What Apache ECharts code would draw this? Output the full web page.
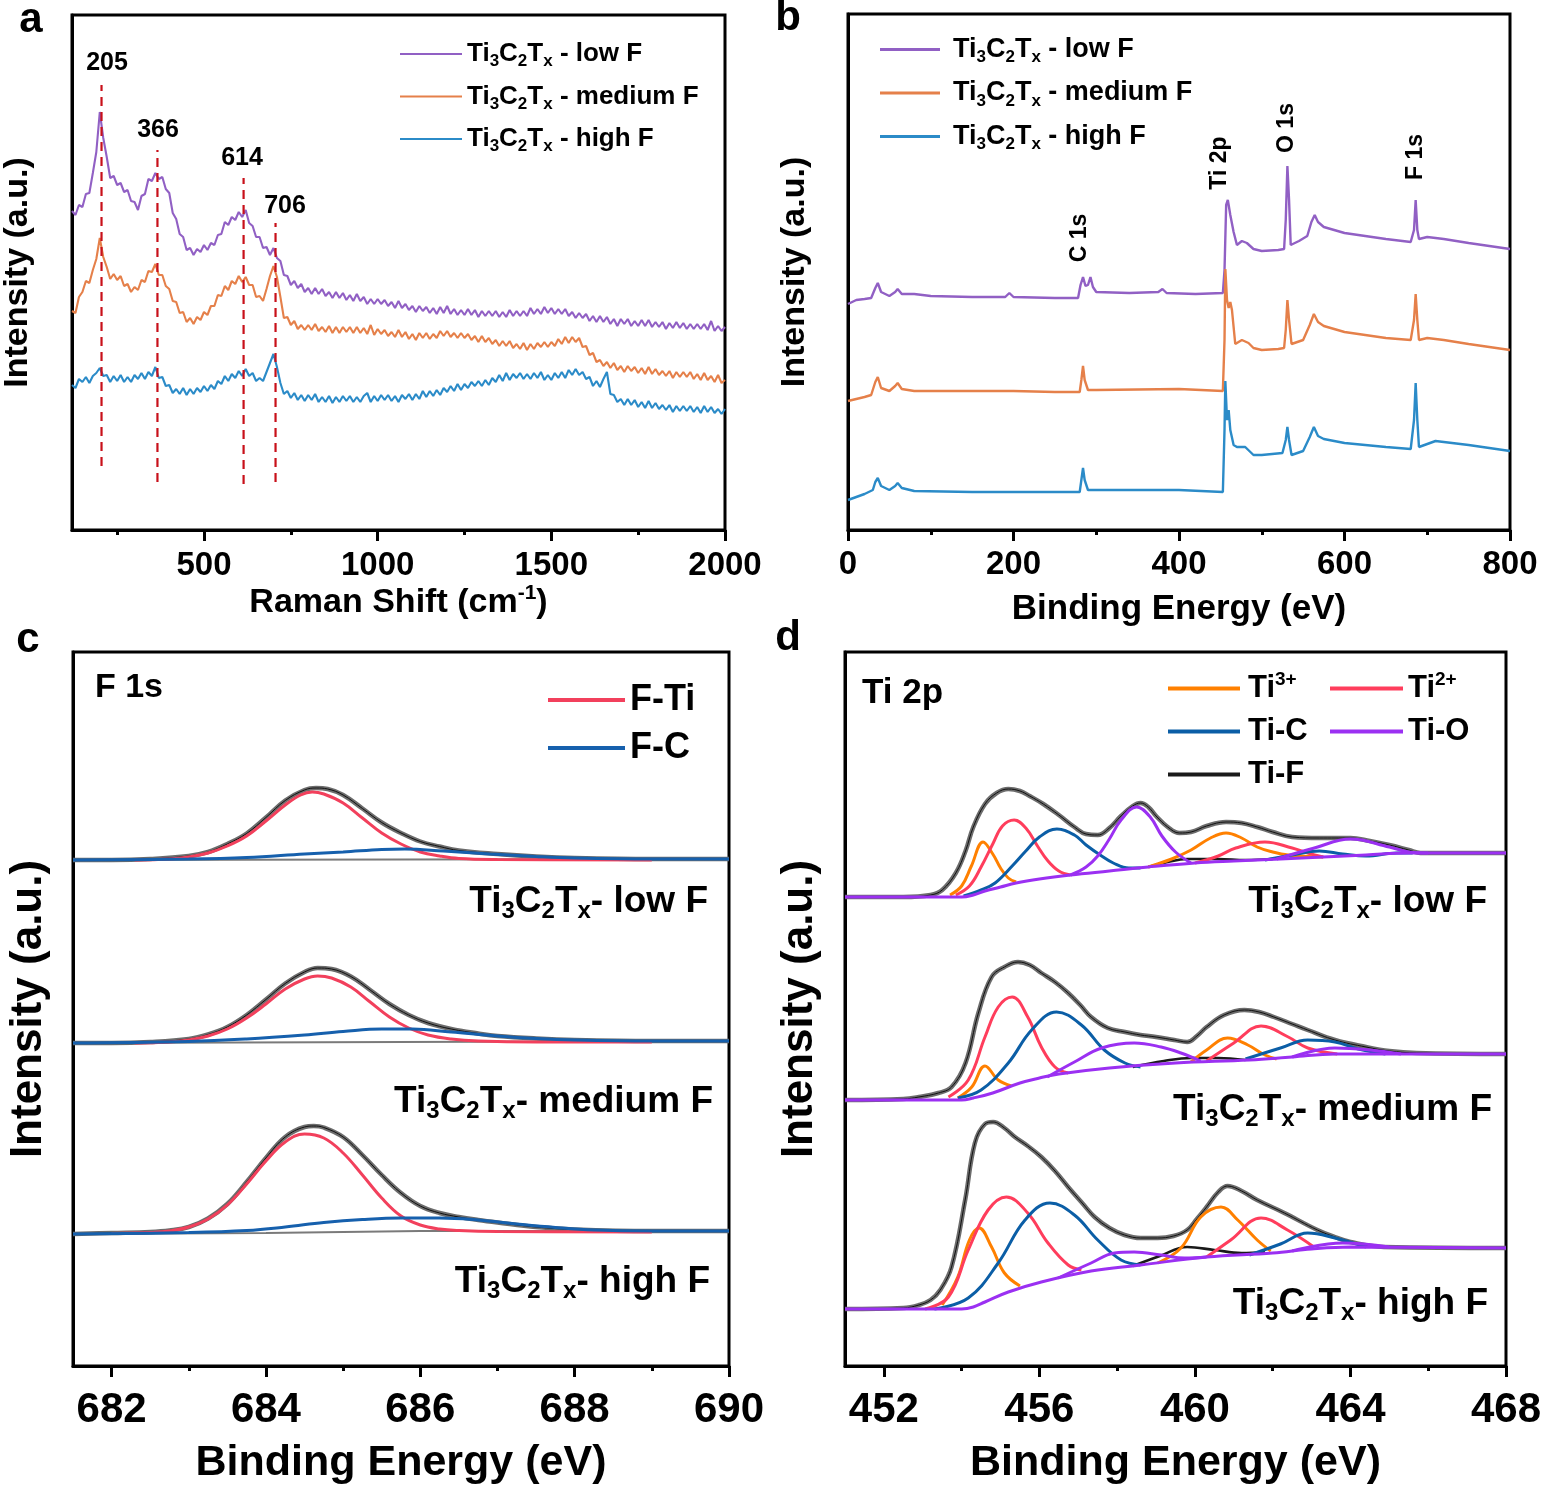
<!DOCTYPE html>
<html><head><meta charset="utf-8">
<script src="https://cdn.jsdelivr.net/npm/echarts@6/dist/echarts.min.js"></script>
<style>html,body{margin:0;padding:0;background:#fff}#c{width:1545px;height:1492px}</style>
</head><body><div id="c"></div>
<script>
// ---------------- DATA ----------------
// Panel a: Raman spectra (sampling grid start/step, intensity in a.u.)
const ramanStart = 120, ramanStep = 10;
const ramanLowF = [
319,315,325,323,336,337,357,378,418,392,
373,352,354,345,347,338,340,329,328,320,
334,336,351,349,357,351,353,341,337,317,
311,296,293,280,282,275,281,278,285,280,
287,285,295,296,308,305,313,310,318,313,
320,307,304,293,293,282,283,275,282,272,
269,255,254,245,249,242,246,238,242,236,
242,236,241,234,238,232,238,232,237,230,
235,229,236,229,233,226,231,226,231,226,
230,224,228,222,229,222,226,220,224,218,
224,219,223,217,222,216,223,217,224,216,
221,215,220,215,221,215,220,213,219,214,
219,214,219,213,218,213,220,214,219,214,
219,214,222,216,221,216,223,217,222,216,
221,216,221,214,218,212,217,212,216,209,
214,208,214,208,213,206,211,204,211,206,
211,204,209,204,210,204,210,203,208,203,
208,201,207,202,208,202,207,201,206,201,
206,201,206,200,209,199,204,199,203];
const ramanMediumF = [
219,217,233,238,249,247,260,271,292,273,
263,251,256,250,254,244,246,238,243,240,
250,248,259,258,266,255,255,244,241,229,
228,217,218,208,212,206,213,210,218,215,
224,224,235,234,244,240,249,246,254,248,
253,245,245,233,234,229,241,254,264,253,
233,212,213,205,209,201,205,200,205,200,
206,199,203,198,204,197,203,197,203,198,
203,197,203,197,202,196,205,195,201,196,
200,194,198,193,200,193,198,191,196,190,
197,192,197,191,196,192,199,194,199,193,
197,192,197,192,196,190,194,188,194,188,
192,186,190,184,189,184,189,182,186,181,
187,180,186,181,187,183,188,183,188,184,
191,186,193,187,193,188,192,183,184,175,
177,168,170,164,168,162,167,160,164,158,
164,159,163,157,162,156,163,156,161,155,
159,154,159,152,158,153,158,153,158,151,
156,150,157,150,154,148,155,147,150];
const ramanHighF = [
145,142,151,148,153,147,154,157,162,154,
155,148,154,149,155,148,153,148,155,151,
157,151,158,154,163,152,153,144,145,137,
141,136,142,135,141,136,142,138,144,139,
145,141,149,146,154,149,156,152,159,154,
161,154,157,149,152,149,158,167,176,163,
147,136,139,132,137,130,135,129,135,130,
136,128,133,128,134,127,133,128,134,129,
134,128,133,128,134,137,128,134,129,135,
130,135,129,134,128,135,131,136,130,136,
131,139,133,139,134,140,135,142,138,144,
139,146,140,146,142,148,144,149,144,150,
145,152,148,155,149,157,150,156,152,157,
151,156,151,157,152,158,150,155,150,157,
152,158,152,160,155,161,155,158,151,153,
144,149,143,151,158,136,135,128,131,125,
131,125,130,123,128,122,129,122,127,121,
125,120,125,118,124,119,124,119,124,118,
123,117,124,118,123,117,121,116,121];
const ramanPeaks = [205, 366, 614, 706];
const ramanPeakTop = [445, 380, 352, 307];
const ramanPeakBottom = [64, 48, 46, 48];
const ramanPeakLabels = ['205', '366', '614', '706'];
const ramanMajorTicks = [500, 1000, 1500, 2000];
const ramanMinorTicks = [250, 750, 1250, 1750];

// Panel b: XPS survey [binding energy, intensity]
const surveyLowF = [[0,226],[10,230],[20,231],[28,232],[33,242],[36,247],[40,238],[50,234],[57,238],[60,241],[65,236],[80,236],[100,234],[150,233],[190,233],[195,237],[200,233],[250,232],[278,232],[281,245],[284,253],[287,244],[290,245],[293,253],[296,243],[300,238],[340,237],[375,238],[380,241],[385,237],[420,236],[453,237],[455,260],[457,325],[459,330],[462,315],[466,298],[470,285],[476,289],[482,287],[490,281],[500,279],[520,280],[527,281],[529,310],[531,364],[533,330],[535,285],[545,289],[555,294],[560,308],[564,315],[568,308],[575,303],[600,297],[625,294],[650,291],[680,288],[684,300],[686,330],[688,300],[690,291],[700,293],[720,291],[750,287],[775,284],[800,281]];
const surveyMediumF = [[0,129],[10,131],[20,133],[28,135],[33,148],[36,153],[40,142],[50,139],[57,144],[60,147],[65,141],[80,139],[150,139],[200,139],[250,138],[280,138],[282,150],[284,164],[286,150],[290,140],[300,140],[400,141],[453,139],[455,190],[456,261],[458,230],[460,222],[462,228],[464,220],[468,186],[476,190],[484,187],[490,182],[500,180],[520,181],[527,182],[529,200],[531,230],[533,210],[536,186],[550,190],[558,205],[563,216],[568,208],[575,204],[600,198],[650,192],[680,190],[684,210],[686,236],[688,210],[690,190],[700,192],[720,190],[750,186],[800,180]];
const surveyHighF = [[0,30],[10,33],[20,36],[30,40],[33,48],[36,52],[40,44],[50,40],[57,44],[60,47],[65,42],[80,39],[150,38],[200,38],[280,38],[282,50],[284,62],[286,50],[290,40],[300,40],[400,40],[453,38],[455,100],[456,149],[458,110],[460,120],[462,100],[466,85],[470,83],[480,83],[490,75],[500,75],[525,77],[529,90],[531,103],[533,90],[536,75],[550,79],[558,93],[563,103],[568,94],[575,91],[600,87],[650,83],[680,81],[684,110],[686,147],[688,110],[690,83],[700,86],[710,89],[730,87],[750,85],[800,79]];

// Panel c: F 1s
const f1sBaseLow = [[681.5,506],[690,507]];
const f1sEnvLow = [[681.5,506],[682,506],[682.5,507],[683.0,510],[683.25,514],[683.5,522],[683.75,532.5],[684.0,548.5],[684.25,565.5],[684.5,576],[684.65,578],[684.8,577],[685.0,571],[685.25,557.5],[685.5,543.5],[685.75,533],[686.0,524.5],[686.25,519.5],[686.5,515.5],[687.0,512],[687.5,509.5],[688,508],[689,507],[690,507]];
const f1sTiLow = [[682.3,506],[682.75,507],[683.0,509],[683.25,513],[683.5,520],[683.75,530],[684.0,545],[684.25,561],[684.45,571],[684.6,574],[684.75,572],[685.0,563],[685.25,548],[685.5,533],[685.75,522],[686.0,514],[686.25,510],[686.5,507.5],[687,506.5],[689,506]];
const f1sCLow = [[681.5,506],[683,507],[683.75,508.5],[684.5,512],[685,514],[685.5,516.5],[685.8,517],[686.3,515],[686.9,512],[687.5,509.5],[688,508],[689,507],[690,507]];
const f1sBaseMed = [[681.5,323],[690,325]];
const f1sEnvMed = [[681.5,323],[682,323],[682.5,324],[683.0,327],[683.25,331.5],[683.5,339],[683.75,351],[684.0,366.5],[684.25,382.5],[684.5,394],[684.67,398],[684.85,397],[685.1,389.5],[685.35,376],[685.6,362],[685.85,351],[686.1,343],[686.4,337],[686.75,332.5],[687.0,330],[687.5,327.5],[688,326],[689,325],[690,325]];
const f1sTiMed = [[682.3,323],[682.75,324],[683.0,326],[683.25,330],[683.5,337],[683.75,348],[684.0,362],[684.25,377],[684.5,387],[684.67,390],[684.85,388],[685.1,379],[685.35,364],[685.6,349],[685.85,338],[686.1,331],[686.4,327],[686.75,325],[687.5,324],[689,324]];
const f1sCMed = [[681.5,323],[683,324.5],[683.75,327],[684.5,331],[685.0,334.5],[685.5,337],[685.9,337],[686.4,334],[687,330],[687.5,327.5],[688,326],[689,325],[690,325]];
const f1sBaseHigh = [[681.5,132],[684,133],[686,135],[690,135]];
const f1sEnvHigh = [[681.5,132],[682.0,133],[682.5,134],[682.75,135.5],[683.0,139],[683.25,147.5],[683.5,162],[683.75,184],[684.0,208],[684.25,229],[684.5,239],[684.62,240],[684.75,238.5],[685.0,229],[685.25,211],[685.5,191],[685.75,173],[686.0,160],[686.25,153],[686.5,149],[686.75,146],[687.0,143.5],[687.5,139],[688,136.5],[689,135],[690,135]];
const f1sTiHigh = [[682.0,132.5],[682.5,133.5],[682.75,135],[683.0,139],[683.25,147],[683.5,161],[683.75,182],[684.0,205],[684.25,224],[684.5,232],[684.75,228],[685.0,213],[685.25,191],[685.5,168],[685.75,150],[686.0,141],[686.25,137],[686.5,135.5],[687,134.5],[689,134]];
const f1sCHigh = [[681.5,132],[683,133.5],[683.75,135.5],[684.25,139],[684.75,143.5],[685.25,146.5],[685.75,148],[686.25,148],[686.75,146],[687.25,142],[687.75,138.5],[688.25,136],[689,135],[690,135]];

// Panel d: Ti 2p (segments of each fitted component)
const ti2pBgLow = [[451,469],[454.0,469],[454.3,471],[454.6,475],[455.0,479],[455.4,483],[456.0,487],[456.8,491],[457.8,495],[458.8,499],[460.0,503],[461.0,505],[462.2,507],[463.3,509],[464.4,511],[465.5,513],[468,513]];
const ti2pEnvLow = [[451,469],[452.5,469],[453.2,471],[453.5,476],[453.85,493],[454.1,515],[454.3,539],[454.6,562],[454.9,573],[455.2,577],[455.5,575],[455.75,570],[456.1,562],[456.5,551],[456.9,539],[457.2,532],[457.5,531],[457.8,538],[458.1,550],[458.4,560],[458.6,563],[458.8,559],[459.0,550],[459.3,539],[459.6,533],[459.9,534],[460.3,540],[460.8,544],[461.2,543],[461.6,539],[462.0,534],[462.5,529],[463.2,528],[464.0,528],[464.5,525],[465.0,521],[465.5,516],[465.8,513],[468,513]];
const ti3pLow = [[[453.7,471],[454.0,480],[454.25,500],[454.55,524],[454.8,512],[455.0,498],[455.2,488],[455.4,484]],[[458.8,499],[459.4,507],[459.9,516],[460.4,528],[460.8,533],[461.2,528],[461.6,519],[462.0,514],[462.4,511],[463.3,509]]];
const ti2pLow = [[[453.85,471],[454.2,480],[454.5,499],[454.8,522],[455.05,540],[455.35,546],[455.65,538],[455.95,520],[456.2,506],[456.5,495],[456.8,491]],[[460.0,503],[460.6,510],[461.05,518],[461.8,524],[462.5,518],[462.9,513],[463.3,509]]];
const tiCLow = [[[454.05,470],[454.5,476],[454.86,483],[455.3,500],[455.65,515],[456.0,529],[456.45,537],[456.9,531],[457.2,521],[457.6,510],[457.9,503],[458.3,498],[458.6,498]],[[461.8,506],[462.5,511],[463.2,515],[463.8,512],[464.4,510],[465.2,513],[465.6,513]]];
const tiOLow = [[[456.8,491],[457.2,499],[457.5,510],[457.8,527],[458.1,546],[458.5,559],[458.85,549],[459.15,530],[459.5,514],[459.9,503]],[[462.1,507],[463.07,518],[464.0,527],[465.0,519],[465.5,514],[466.0,513]]];
const tiFLow = [[[458.8,499],[459.3,504],[459.8,507],[460.6,507],[461.3,506],[462,507]]];
const ti2pBgMed = [[451,266],[454.0,266],[454.3,268],[454.8,273],[455.5,283],[456.0,288],[456.5,292],[457.8,298],[459.5,303],[461.4,306],[462.5,309],[463.6,312],[468,312]];
const ti2pEnvMed = [[451,266],[452.5,267],[452.9,269],[453.4,273],[453.74,279],[454.1,303],[454.43,353],[454.77,389],[455.1,399],[455.45,404],[455.75,401],[456.05,393],[456.4,384],[456.74,373],[457.05,361],[457.33,349],[457.76,338],[458.2,334],[458.6,331],[459.0,329],[459.47,326],[459.8,324],[460.05,330],[460.3,339],[460.75,351],[461.27,356],[461.65,354],[462.03,349],[462.5,342],[462.9,336],[463.6,326],[464.4,319],[465.0,315],[465.7,313],[468,312]];
const ti3pMed = [[[453.9,268],[454.26,279],[454.6,300],[454.94,286],[455.28,280]],[[459.9,304],[460.3,316],[460.84,328],[461.36,321],[461.8,311],[462.1,307]]];
const ti2pMed = [[[453.66,269],[454.17,286],[454.6,329],[454.94,359],[455.3,369],[455.7,349],[456.05,319],[456.4,299],[456.74,293]],[[460.3,305],[461.0,323],[461.7,340],[462.4,329],[462.9,318],[463.66,312]]];
const tiCMed = [[[453.9,268],[454.5,276],[455.2,303],[455.8,336],[456.44,354],[457.08,341],[457.67,316],[458.2,303],[458.6,299]],[[461.3,307],[462.2,318],[462.9,326],[463.6,324],[464.2,317],[464.9,312]]];
const tiOMed = [[[456.2,289],[456.9,304],[457.6,318],[458.44,323],[459.13,319],[459.64,313],[460.15,305]],[[462.5,309],[463.6,318],[464.5,316],[465.3,312]]];
const tiFMed = [[[458.4,299],[459.2,305],[459.9,308],[460.6,308],[461.3,306]]];
const ti2pBgHigh = [[451,57],[454.0,57],[454.3,59],[454.6,64],[455.2,74],[456.05,84],[457.33,95],[458.6,101],[460.3,109],[462.0,113],[463.0,117],[464.0,119],[468,118]];
const ti2pEnvHigh = [[451,57],[452.5,58],[452.9,61],[453.2,66],[453.45,76],[453.74,99],[454.09,166],[454.34,223],[454.6,242],[454.81,244],[455.1,238],[455.37,229],[455.7,220],[456.05,209],[456.4,195],[456.74,179],[457.1,163],[457.42,149],[457.8,138],[458.19,131],[458.6,128],[459.04,128],[459.45,130],[459.8,136],[460.05,147],[460.3,159],[460.6,174],[460.84,180],[461.2,175],[461.6,166],[462.3,153],[463.15,136],[463.6,129],[464.0,124],[464.86,119],[468,118]];
const ti3pHigh = [[[453.5,61],[453.9,89],[454.2,126],[454.45,138],[454.77,119],[455.1,93],[455.5,80]],[[459.04,103],[459.64,118],[460.15,149],[460.67,159],[461.1,146],[461.6,126],[461.95,115]]];
const ti2pHigh = [[[453.06,57],[453.66,69],[454.17,116],[454.68,156],[455.15,169],[455.7,153],[456.22,123],[456.74,101],[457.08,96]],[[460.3,109],[460.92,126],[461.7,148],[462.38,136],[463.06,119]]];
const tiCHigh = [[[453.3,57],[454.17,68],[454.94,103],[455.63,146],[456.27,163],[456.9,151],[457.5,126],[458.1,106],[458.6,101]],[[461.4,111],[462.2,122],[462.9,133],[463.6,128],[464.4,119]]];
const tiOHigh = [[[456.48,88],[457.33,103],[457.93,113],[458.44,114],[459.13,111],[459.73,108],[460.3,109]],[[462.5,115],[463.8,123],[465,119]]];
const tiFHigh = [[[458.4,100],[459.1,110],[459.8,119],[460.5,116],[461.2,113],[461.8,114]]];

// ---------------- CHART ----------------
const FONT = '"Liberation Sans", Arial, Helvetica, sans-serif';
const BK = '#000';
const C_PUR = '#9160c4', C_ORA = '#e5804a', C_BLU = '#2b8bc8';
const C_FTI = '#f2405c', C_FC = '#1660ad', C_ENV = '#6c6c6c';
const C_T3 = '#ff8000', C_T2 = '#ff3d5c', C_TC = '#0b5ea6', C_TO = '#9b30f2', C_TF = '#1a1a1a';

const chart = echarts.init(document.getElementById('c'), null, {renderer: 'canvas'});

function line(xi, yi, data, color, width, extra) {
  return Object.assign({type: 'line', xAxisIndex: xi, yAxisIndex: yi, data: data, symbol: 'none', showSymbol: false,
    lineStyle: {color: color, width: width}, itemStyle: {color: color}, silent: true, animation: false, clip: true}, extra || {});
}
const ramanPairs = arr => arr.map((v, i) => [ramanStart + i * ramanStep, v]);

const series = [];
// panel a
series.push(line(0, 0, ramanPairs(ramanLowF), C_PUR, 2.1, {name: 'aLow'}));
series.push(line(0, 0, ramanPairs(ramanMediumF), C_ORA, 2.1, {name: 'aMed'}));
series.push(line(0, 0, ramanPairs(ramanHighF), C_BLU, 2.1, {name: 'aHigh'}));
ramanPeaks.forEach((p, i) => {
  series.push(line(0, 0, [[p, ramanPeakBottom[i]], [p, ramanPeakTop[i]]], '#c8101a', 2.2, {lineStyle: {color: '#c8101a', width: 2.2, type: [9, 6]}}));
});
// panel b
series.push(line(2, 1, surveyLowF, C_PUR, 2.4, {name: 'bLow'}));
series.push(line(2, 1, surveyMediumF, C_ORA, 2.4, {name: 'bMed'}));
series.push(line(2, 1, surveyHighF, C_BLU, 2.4, {name: 'bHigh'}));
// panel c
const sm = {smooth: 0.4};
[[f1sBaseLow, f1sEnvLow, f1sTiLow, f1sCLow], [f1sBaseMed, f1sEnvMed, f1sTiMed, f1sCMed], [f1sBaseHigh, f1sEnvHigh, f1sTiHigh, f1sCHigh]].forEach(s => {
  series.push(line(3, 2, s[0], '#7a7a7a', 2));
  series.push(line(3, 2, s[1], C_ENV, 4.5, sm));
  series.push(line(3, 2, s[1], '#111', 1, sm));
  series.push(line(3, 2, s[2], C_FTI, 3, Object.assign({name: 'F-Ti'}, sm)));
  series.push(line(3, 2, s[3], C_FC, 3, Object.assign({name: 'F-C'}, sm)));
});
// panel d
[[ti2pBgLow, ti2pEnvLow, ti3pLow, ti2pLow, tiCLow, tiOLow, tiFLow],
 [ti2pBgMed, ti2pEnvMed, ti3pMed, ti2pMed, tiCMed, tiOMed, tiFMed],
 [ti2pBgHigh, ti2pEnvHigh, ti3pHigh, ti2pHigh, tiCHigh, tiOHigh, tiFHigh]].forEach(s => {
  series.push(line(5, 3, s[1], C_ENV, 4.5, sm));
  series.push(line(5, 3, s[1], '#111', 1, sm));
  s[6].forEach(seg => series.push(line(5, 3, seg, C_TF, 2.6, Object.assign({name: 'Ti-F'}, sm))));
  s[2].forEach(seg => series.push(line(5, 3, seg, C_T3, 3, Object.assign({name: 'Ti3+'}, sm))));
  s[3].forEach(seg => series.push(line(5, 3, seg, C_T2, 3, Object.assign({name: 'Ti2+'}, sm))));
  s[4].forEach(seg => series.push(line(5, 3, seg, C_TC, 3, Object.assign({name: 'Ti-C'}, sm))));
  s[5].forEach(seg => series.push(line(5, 3, seg, C_TO, 3, Object.assign({name: 'Ti-O'}, sm))));
  series.push(line(5, 3, s[0], C_TO, 3, sm));
});

// axes
const plain = v => String(v);
function xMain(gi, min, max, fs, margin, name, gap, nameFs, rich, major) {
  const ax = {type: 'value', gridIndex: gi, min: min, max: max, position: 'bottom',
    axisLine: {show: true, onZero: false, lineStyle: {color: BK, width: 3}},
    splitLine: {show: false},
    axisLabel: {color: BK, fontSize: fs, fontWeight: 'bold', fontFamily: FONT, margin: margin, formatter: plain},
    axisTick: {show: true, inside: false, length: 11, lineStyle: {color: BK, width: 3}},
    name: name, nameLocation: 'middle', nameGap: gap,
    nameTextStyle: {color: BK, fontSize: nameFs, fontWeight: 'bold', fontFamily: FONT, rich: rich}};
  if (major) { ax.axisLabel.customValues = major; ax.axisTick.customValues = major; }
  return ax;
}
function xMinor(gi, min, max, minor) {
  return {type: 'value', gridIndex: gi, min: min, max: max, position: 'bottom',
    axisLine: {show: false}, splitLine: {show: false}, axisLabel: {show: false},
    axisTick: {show: true, inside: false, length: 5, customValues: minor, lineStyle: {color: BK, width: 3}}};
}
function yAx(gi, max, gap, fs) {
  return {type: 'value', gridIndex: gi, min: 0, max: max,
    axisLine: {show: true, lineStyle: {color: BK, width: 3}}, axisTick: {show: false}, axisLabel: {show: false}, splitLine: {show: false},
    name: 'Intensity (a.u.)', nameLocation: 'middle', nameRotate: 90, nameGap: gap,
    nameTextStyle: {color: BK, fontSize: fs, fontWeight: 'bold', fontFamily: FONT}};
}
const supRich = fs => ({n: {fontSize: fs, fontWeight: 'bold', fontFamily: FONT, color: BK, lineHeight: fs + 6},
  p: {fontSize: Math.round(fs * 0.62), fontWeight: 'bold', fontFamily: FONT, color: BK, verticalAlign: 'top', lineHeight: Math.round(fs * 0.62)}});
const subRich = (fs, sfs) => ({n: {fontSize: fs, fontWeight: 'bold', fontFamily: FONT, color: BK, lineHeight: fs + 6},
  s: {fontSize: sfs, fontWeight: 'bold', fontFamily: FONT, color: BK, verticalAlign: 'bottom', lineHeight: sfs}});

const xbAxis = xMain(1, 0, 800, 33, 18, 'Binding Energy (eV)', 62, 35);
xbAxis.interval = 200;
xbAxis.minorTick = {show: true, splitNumber: 2, length: 5, lineStyle: {color: BK, width: 3}};

const xAxis = [
  xMain(0, 120, 2000, 33, 19, '{n|Raman Shift (cm}{p|-1}{n|)}', 52, 34, supRich(34), ramanMajorTicks),
  xMinor(0, 120, 2000, ramanMinorTicks),
  xbAxis,
  xMain(2, 681.5, 690, 42, 23, 'Binding Energy (eV)', 76, 43, null, [682, 684, 686, 688, 690]),
  xMinor(2, 681.5, 690, [683, 685, 687, 689]),
  xMain(3, 451, 468, 42, 23, 'Binding Energy (eV)', 76, 43, null, [452, 456, 460, 464, 468]),
  xMinor(3, 451, 468, [454, 458, 462, 466])
];
const yAxis = [yAx(0, 515, 37, 34), yAx(1, 516, 36, 34), yAx(2, 714, 22, 44), yAx(3, 714, 23, 44)];

const gridStyle = {show: true, borderColor: BK, borderWidth: 3, backgroundColor: 'rgba(0,0,0,0)'};
const grid = [
  Object.assign({left: 70, top: 15, width: 655, height: 515}, gridStyle),
  Object.assign({left: 848, top: 14, width: 662, height: 516}, gridStyle),
  Object.assign({left: 73, top: 652, width: 656, height: 714}, gridStyle),
  Object.assign({left: 845, top: 652, width: 661, height: 714}, gridStyle)
];

const tiName = w => '{n|Ti}{s|3}{n|C}{s|2}{n|T}{s|x}{n|' + w + '}';
const legendNames = {aLow: tiName(' - low F'), aMed: tiName(' - medium F'), aHigh: tiName(' - high F'),
  bLow: tiName(' - low F'), bMed: tiName(' - medium F'), bHigh: tiName(' - high F'),
  'Ti3+': '{n|Ti}{p|3+}', 'Ti2+': '{n|Ti}{p|2+}', 'Ti-C': '{n|Ti-C}', 'Ti-O': '{n|Ti-O}', 'Ti-F': '{n|Ti-F}'};
const legFmt = name => legendNames[name] || name;
function legend(data, left, top, iw, gap, rich, lw, pad) {
  return {data: data, orient: 'vertical', left: left, top: top, itemWidth: iw, itemHeight: lw, itemGap: gap, padding: 0,
    icon: 'rect', selectedMode: false, formatter: legFmt,
    textStyle: {color: BK, fontWeight: 'bold', fontFamily: FONT, rich: rich, padding: [0, 0, 0, pad || 0]}};
}
const legendArr = [
  legend(['aLow', 'aMed', 'aHigh'], 400, 41, 62, 13.5, subRich(26, 17), 2),
  legend(['bLow', 'bMed', 'bHigh'], 880, 36, 60, 13.5, subRich(27, 17), 3, 8),
  {data: ['F-Ti', 'F-C'], orient: 'vertical', left: 548, top: 679, itemWidth: 77, itemHeight: 4, itemGap: 6, padding: 0,
    icon: 'rect', selectedMode: false,
    textStyle: {color: BK, fontWeight: 'bold', fontFamily: FONT, fontSize: 36, lineHeight: 42}},
  legend(['Ti3+', 'Ti-C', 'Ti-F'], 1168, 670, 72, 12, supRich(31), 4, 3),
  legend(['Ti2+', 'Ti-O'], 1330, 670, 73, 12, supRich(31), 4)
];

function txt(text, x, y, fs, align, vAlign, rot) {
  return {type: 'text', x: x, y: y, rotation: rot || 0, silent: true,
    style: {text: text, x: 0, y: 0, font: 'bold ' + fs + 'px ' + FONT, fill: BK, textAlign: align || 'center', textVerticalAlign: vAlign || 'middle'}};
}
function richTxt(text, x, y, fs, sfs) {
  return {type: 'text', x: x, y: y, silent: true,
    style: {text: text, x: 0, y: 0, rich: subRich(fs, sfs), textAlign: 'right', textVerticalAlign: 'middle', fill: BK}};
}
const graphic = [
  txt('a', 31, 20, 42), txt('b', 788, 18, 42), txt('c', 28, 640, 42), txt('d', 788, 638, 42),
  txt(ramanPeakLabels[0], 107, 63, 25), txt(ramanPeakLabels[1], 158, 130, 25), txt(ramanPeakLabels[2], 242, 158, 25), txt(ramanPeakLabels[3], 285, 206, 25),
  txt('C 1s', 1080, 238, 23, 'center', 'middle', Math.PI / 2), txt('Ti 2p', 1220, 163, 23, 'center', 'middle', Math.PI / 2),
  txt('O 1s', 1287, 128, 23, 'center', 'middle', Math.PI / 2), txt('F 1s', 1416, 157, 23, 'center', 'middle', Math.PI / 2),
  txt('F 1s', 95, 688, 34, 'left'), txt('Ti 2p', 862, 693, 35, 'left'),
  richTxt(tiName('- low F'), 708, 902, 37, 24), richTxt(tiName('- medium F'), 713, 1102, 37, 24), richTxt(tiName('- high F'), 710, 1282, 37, 24),
  richTxt(tiName('- low F'), 1487, 902, 37, 24), richTxt(tiName('- medium F'), 1492, 1110, 37, 24), richTxt(tiName('- high F'), 1488, 1304, 37, 24)
];

chart.setOption({animation: false, backgroundColor: '#fff', grid: grid, xAxis: xAxis, yAxis: yAxis, legend: legendArr, series: series, graphic: graphic});
</script></body></html>
